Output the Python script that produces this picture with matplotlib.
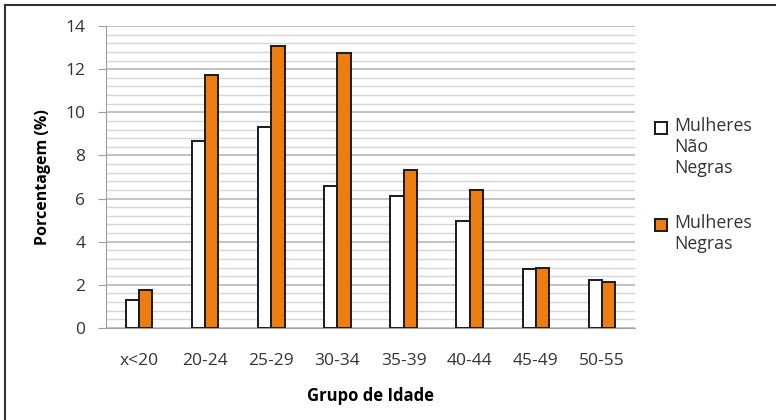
import matplotlib.pyplot as plt
import numpy as np
from matplotlib.lines import Line2D

categories = ["x<20", "20-24", "25-29", "30-34", "35-39", "40-44", "45-49", "50-55"]
nao_negras = [1.31, 8.68, 9.33, 6.60, 6.13, 4.98, 2.73, 2.21]
negras = [1.76, 11.73, 13.09, 12.73, 7.32, 6.40, 2.80, 2.12]
series_labels = ["Mulheres\nNão\nNegras", "Mulheres\nNegras"]

plt.rcParams['font.family'] = ['Open Sans', 'DejaVu Sans']

fig = plt.figure(figsize=(7.76, 4.2), dpi=100)
ax = fig.add_axes([106 / 776, 1 - 328 / 420, 529 / 776, 302 / 420])

x = np.arange(len(categories))
w = 0.2
orange = "#EE7D10"
edge = "#1a1a1a"
ax.bar(x - w / 2, nao_negras, w, color="white", edgecolor=edge, linewidth=1.4, zorder=3)
ax.bar(x + w / 2, negras, w, color=orange, edgecolor=edge, linewidth=1.4, zorder=3)

ax.set_xlim(-0.5, len(categories) - 0.5)
ax.set_ylim(0, 14)
ax.set_yticks(np.arange(0, 15, 2))
ax.set_yticks(np.arange(0, 14.01, 0.4), minor=True)
ax.grid(axis='y', which='major', color="#bdbdbd", linewidth=1.3, zorder=0)
ax.grid(axis='y', which='minor', color="#d6d6d6", linewidth=1.0, zorder=0)

ax.set_xticks(x)
ax.set_xticklabels(categories)
for s in ["top", "right"]:
    ax.spines[s].set_visible(False)
ax.spines["left"].set_color("#a0a0a0")
ax.spines["bottom"].set_color("#a0a0a0")
ax.tick_params(axis='y', which='major', length=6, color="#a0a0a0", labelsize=12.5,
               labelcolor="#333333", pad=9)
ax.tick_params(axis='y', which='minor', length=0)
ax.tick_params(axis='x', length=0, labelsize=12.5, labelcolor="#333333", pad=18)

ax.set_ylabel("Porcentagem (%)", fontsize=11.5, fontweight="bold", labelpad=10)
ax.set_xlabel("Grupo de Idade", fontsize=12, fontweight="bold", labelpad=13)

# legend drawn as markers + text on the figure
def legend_entry(y, face, text):
    fig.add_artist(Line2D([661 / 776], [1 - y / 420], marker='s', markersize=9,
                          markerfacecolor=face, markeredgecolor=edge,
                          markeredgewidth=1.4, transform=fig.transFigure))
    fig.text(674 / 776, 1 - (y - 11) / 420, text, fontsize=12.8, color="#333333",
             va="top", ha="left", linespacing=1.22)

legend_entry(128, "white", series_labels[0])
legend_entry(225, orange, series_labels[1])

# frame lines along the top and left edge
fig.add_artist(Line2D([5 / 776, 1], [1 - 5 / 420, 1 - 5 / 420], color="#333333",
                      linewidth=1.5, transform=fig.transFigure))
fig.add_artist(Line2D([5 / 776, 5 / 776], [0, 1 - 5 / 420], color="#333333",
                      linewidth=1.5, transform=fig.transFigure))

fig.savefig("out.png", dpi=100)
